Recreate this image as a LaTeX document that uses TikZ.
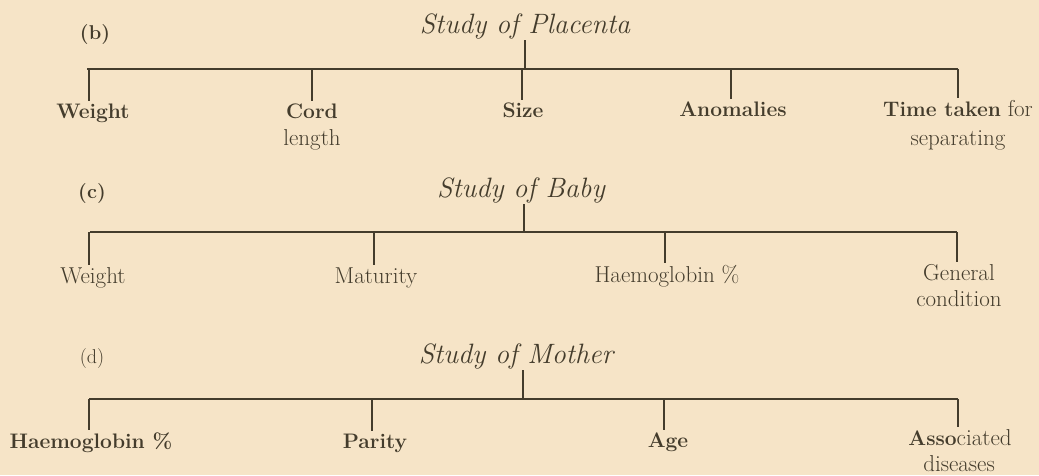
\documentclass[tikz,border=0pt]{standalone}
\usepackage{fontspec}
\definecolor{bg}{RGB}{246,228,199}
\definecolor{ink}{RGB}{68,60,44}
\newcommand{\bsz}{\fontsize{21}{24}\selectfont\bfseries}
\tikzset{
  base/.style={text=ink, inner sep=2pt, anchor=base},
  lab/.style={base, font=\fontsize{20}{24}\selectfont\bfseries},
  labr/.style={base, font=\fontsize{20}{24}\selectfont},
  reg/.style={base, font=\fontsize{23}{26}\selectfont},
  bld/.style={base, font=\bsz},
  ttl/.style={base, inner sep=1.5pt, font=\fontsize{28}{32}\selectfont\itshape},
  bar/.style={draw=ink, line width=1.8pt},
  tick/.style={draw=ink, line width=1.2pt},
}
\begin{document}
\begin{tikzpicture}[x=1pt,y={(0pt,-1pt)}]
\fill[bg] (0,0) rectangle (1039,475);
\useasboundingbox (0,0) rectangle (1039,475);

% ---------- (b) Study of Placenta ----------
\node[lab] (bL) at (95,39) {(b)};
\node[ttl] (bT) at (525,33) {Study of Placenta};
\coordinate (bBL) at (87,69);
\coordinate (bBR) at (958,69);
\draw[bar] (bBL) -- (bBR);
\draw[tick] (bT.south) -- (bT.south |- bBL);
\node[bld] (b1) at (93,118) {Weight};
\node[bld] (b2) at (312,118) {Cord};
\node[reg] (b2x) at (312,145) {length};
\node[bld] (b3) at (523,117) {Size};
\node[bld] (b4) at (733,116) {Anomalies};
\node[reg] (b5) at (958,116) {{\bsz Time taken} for};
\node[reg] (b5x) at (958,145) {separating};
\coordinate (b1t) at (89,69);
\coordinate (b2t) at (312,69);
\coordinate (b3t) at (522,69);
\coordinate (b4t) at (731,69);
\coordinate (b5t) at (958,69);
\draw[tick] (b1t) -- (b1t |- b1.north);
\draw[tick] (b2t) -- (b2t |- b2.north);
\draw[tick] (b3t) -- (b3t |- b3.north);
\draw[tick] (b4t) -- (b4t |- b4.north);
\draw[tick] (b5t) -- (b5t |- b5.north);

% ---------- (c) Study of Baby ----------
\node[lab] (cL) at (92,198) {(c)};
\node[ttl] (cT) at (521,197) {Study of Baby};
\coordinate (cBL) at (90,232);
\coordinate (cBR) at (957,232);
\draw[bar] (cBL) -- (cBR);
\coordinate (cTt) at (524,232);
\draw[tick] (cTt |- cT.south) -- (cTt);
\node[reg] (c1) at (93,283) {Weight};
\node[reg] (c2) at (376,283) {Maturity};
\node[reg] (c3) at (667,282) {Haemoglobin \%};
\node[reg] (c4) at (959,280) {General};
\node[reg] (c4x) at (959,306) {condition};
\coordinate (c1t) at (89,232);
\coordinate (c2t) at (374,232);
\coordinate (c3t) at (665,232);
\coordinate (c4t) at (957,232);
\draw[tick] (c1t) -- (c1t |- c1.north);
\draw[tick] (c2t) -- (c2t |- c2.north);
\draw[tick] (c3t) -- (c3t |- c3.north);
\draw[tick] (c4t) -- (c4t |- c4.north);

% ---------- (d) Study of Mother ----------
\node[labr] (dL) at (92,363) {(d)};
\node[ttl] (dT) at (516,363) {Study of Mother};
\coordinate (dBL) at (89,399);
\coordinate (dBR) at (958,399);
\draw[bar] (dBL) -- (dBR);
\coordinate (dTt) at (523,399);
\draw[tick] (dTt |- dT.south) -- (dTt);
\node[bld] (d1) at (91,448) {Haemoglobin \%};
\node[bld] (d2) at (375,448) {Parity};
\node[bld] (d3) at (668,447) {Age};
\node[reg] (d4) at (960,445) {{\bsz Asso}ciated};
\node[reg] (d4x) at (959,471) {diseases};
\coordinate (d1t) at (89,399);
\coordinate (d2t) at (372,399);
\coordinate (d3t) at (664,399);
\coordinate (d4t) at (958,399);
\draw[tick] (d1t) -- (d1t |- d1.north);
\draw[tick] (d2t) -- (d2t |- d2.north);
\draw[tick] (d3t) -- (d3t |- d3.north);
\draw[tick] (d4t) -- (d4t |- d4.north);
\end{tikzpicture}
\end{document}
